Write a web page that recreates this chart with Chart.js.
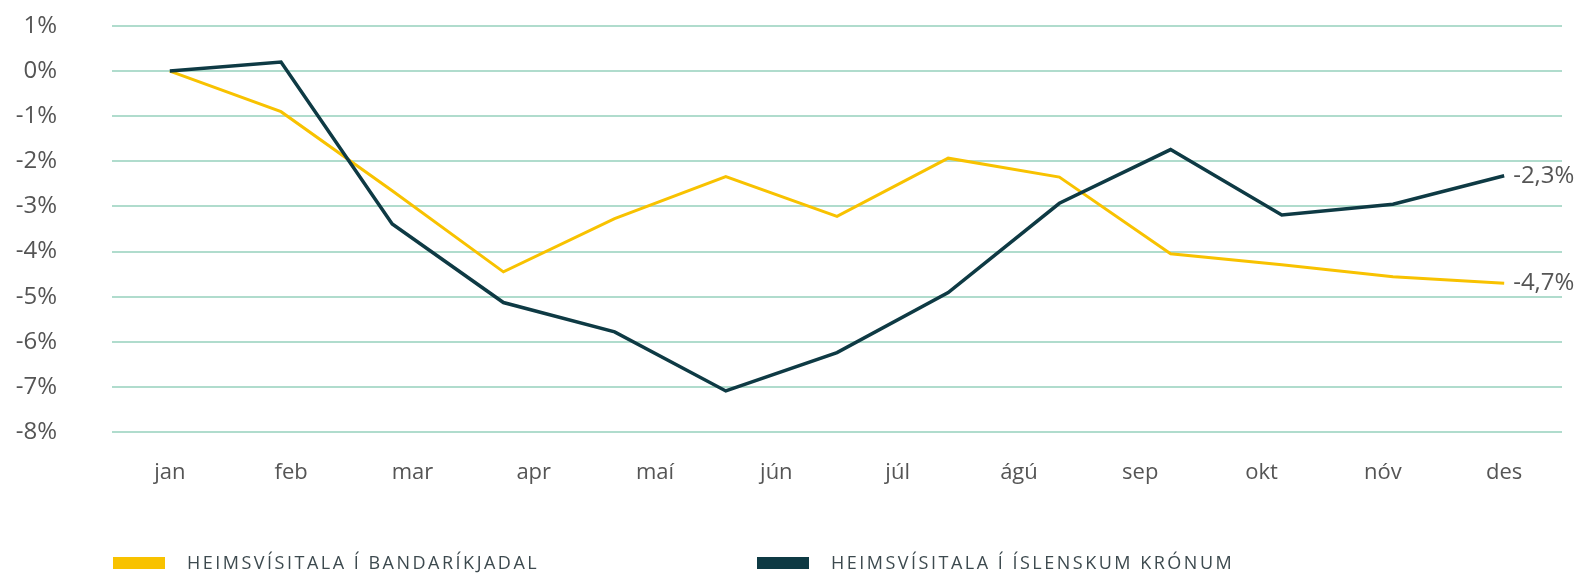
<!DOCTYPE html>
<html>
<head>
<meta charset="utf-8">
<script src="https://cdn.jsdelivr.net/npm/chart.js@4"></script>
<style>
  html, body { margin: 0; padding: 0; background: #fff; }
  #wrap { position: relative; width: 1586px; height: 574px; }
  #legend .box { position: absolute; width: 52px; height: 12px; }
  #legend .txt { position: absolute; font-family: "Open Sans", sans-serif; font-size: 18px;
    letter-spacing: 2.5px; color: #3d4a4f; line-height: 20px; white-space: nowrap; }
</style>
</head>
<body>
<div id="wrap">
  <canvas id="myChart" width="1586" height="574"></canvas>
  <div id="legend"></div>
</div>
<script>
// month labels on the x axis (12 labels, 13 data points)
const months = ['jan', 'feb', 'mar', 'apr', 'maí', 'jún', 'júl', 'ágú', 'sep', 'okt', 'nóv', 'des'];

// % change
const usdValues = [0, -0.9, -2.65, -4.45, -3.27, -2.34, -3.22, -1.93, -2.35, -4.05, -4.29, -4.56, -4.7];
const iskValues = [0, 0.2, -3.39, -5.13, -5.78, -7.09, -6.24, -4.91, -2.93, -1.74, -3.19, -2.95, -2.32];

const seriesNames = ['HEIMSVÍSITALA Í BANDARÍKJADAL', 'HEIMSVÍSITALA Í ÍSLENSKUM KRÓNUM'];
const seriesColors = ['#f8c200', '#0e3a44'];

const yTicks = [1, 0, -1, -2, -3, -4, -5, -6, -7, -8];

function toPoints(values) {
    return values.map((v, i) => ({ x: i, y: v }));
}

const endLabels = {
    id: 'endLabels',
    afterDatasetsDraw(chart) {
        const ctx = chart.ctx;
        ctx.save();
        ctx.font = '24px "Open Sans", sans-serif';
        ctx.fillStyle = '#555';
        ctx.textBaseline = 'middle';
        ctx.textAlign = 'left';
        chart.data.datasets.forEach((ds, i) => {
            const meta = chart.getDatasetMeta(i);
            const last = meta.data[meta.data.length - 1];
            const v = ds.data[ds.data.length - 1].y;
            ctx.fillText(v.toFixed(1).replace('.', ',') + '%', last.x + 9, last.y);
        });
        ctx.restore();
    }
};

const ctx = document.getElementById('myChart');

new Chart(ctx, {
    type: 'line',
    data: {
        datasets: [{
            label: seriesNames[0],
            data: toPoints(usdValues),
            borderColor: seriesColors[0],
            backgroundColor: seriesColors[0],
            borderWidth: 3,
            pointRadius: 0,
            tension: 0,
            order: 1
        }, {
            label: seriesNames[1],
            data: toPoints(iskValues),
            borderColor: seriesColors[1],
            backgroundColor: seriesColors[1],
            borderWidth: 3.5,
            pointRadius: 0,
            tension: 0,
            order: 0
        }]
    },
    options: {
        responsive: false,
        animation: false,
        layout: { padding: { top: 26, right: 24, bottom: 78, left: 0 } },
        plugins: {
            legend: { display: false },
            tooltip: { enabled: false }
        },
        scales: {
            x: {
                type: 'linear',
                min: -0.52,
                max: 12.52,
                afterBuildTicks: (scale) => {
                    scale.ticks = months.map((m, i) => ({ value: i * 12 / 11 }));
                },
                afterFit: (scale) => { scale.height = 64; },
                ticks: {
                    padding: 20,
                    color: '#555',
                    font: { family: '"Open Sans", sans-serif', size: 22 },
                    callback: (v, i) => months[i],
                    maxRotation: 0,
                    autoSkip: false
                },
                grid: { display: false },
                border: { display: false }
            },
            y: {
                min: -8,
                max: 1,
                afterBuildTicks: (scale) => {
                    scale.ticks = yTicks.map(v => ({ value: v }));
                },
                afterFit: (scale) => {
                    scale.width = 112;
                    scale.paddingTop = 0;
                    scale.paddingBottom = 0;
                },
                ticks: {
                    padding: 55,
                    color: '#555',
                    font: { family: '"Open Sans", sans-serif', size: 24 },
                    callback: (v) => v + '%'
                },
                grid: { color: '#b0dccd', lineWidth: 2, drawTicks: false },
                border: { display: false }
            }
        }
    },
    plugins: [endLabels]
});

// legend below the chart
const legend = document.getElementById('legend');
const legendX = [113, 757];
seriesNames.forEach((name, i) => {
    legend.innerHTML +=
    `<div class="box" style="left:${legendX[i]}px; top:557px; background:${seriesColors[i]}"></div>
     <div class="txt" style="left:${legendX[i] + 74}px; top:552px">${name}</div>`;
});
</script>
</body>
</html>
